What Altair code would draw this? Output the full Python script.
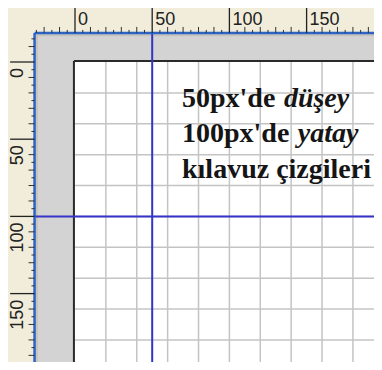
import altair as alt
import pandas as pd

# Ruler units -> screen pixels: x = 75 + 1.544*u , y = 62 + 1.544*u
W, H = 366, 354
XLO = -67 / 1.544
XHI = (W - 67) / 1.544
YLO = -54 / 1.544
YHI = (H - 54) / 1.544
FAR = 210
EDGE_X = -26.2   # blue ruler border (left)
EDGE_Y = -18.8   # blue ruler border (top)

ruler_labels = [0, 50, 100, 150]
top_minor = [v for v in range(-25, 200, 5) if v not in ruler_labels]
left_minor = [v for v in range(-15, 200, 5) if v not in ruler_labels]
grid_lines = [20, 40, 60, 80, 100, 120, 140, 160, 180]
guide_vertical = [50]
guide_horizontal = [100]

line_texts = ["50px'de", "düşey", "100px'de", "yatay", "kılavuz çizgileri"]
line_italic = [False, True, False, True, False]
line_x = [69.3, 135.3, 69.3, 144.3, 69.3]
line_y = [29.1, 29.1, 51.8, 51.8, 75.1]

BEIGE = "#f1edda"
GRAY = "#d3d3d3"
RULER_BLUE = "#2b63c6"
GUIDE_BLUE = "#3434c8"
GRID = "#c4c4c4"

X = alt.Scale(domain=[XLO, XHI], nice=False, zero=False, padding=0)
Y = alt.Scale(domain=[YLO, YHI], nice=False, zero=False, reverse=True, padding=0)


def xe(f):
    return alt.X(f, type="quantitative", scale=X, axis=None)


def ye(f):
    return alt.Y(f, type="quantitative", scale=Y, axis=None)


# background areas
areas = pd.DataFrame({
    "x0": [-60, EDGE_X, EDGE_X, EDGE_X, 0],
    "x1": [FAR, FAR, EDGE_X + 2.2, FAR, FAR],
    "y0": [-60, EDGE_Y, EDGE_Y, EDGE_Y, 0],
    "y1": [FAR, FAR, FAR, EDGE_Y + 2.2, FAR],
    "c": [BEIGE, GRAY, "#c6c4bc", "#c6c4bc", "#ffffff"],
})
bg = alt.Chart(areas).mark_rect(clip=True).encode(
    x=xe("x0"), x2="x1", y=ye("y0"), y2="y1", color=alt.Color("c:N", scale=None)
)

# page border (dark)
border = pd.DataFrame({"x0": [-0.7, -0.7], "x1": [-0.7, FAR], "y0": [-0.7, -0.7], "y1": [FAR, -0.7]})
page_edge = alt.Chart(border).mark_rule(color="#2a2a2a", strokeWidth=2, clip=True).encode(
    x=xe("x0"), x2="x1", y=ye("y0"), y2="y1"
)

# grid
gv = pd.DataFrame({"g": grid_lines})
grid_v = alt.Chart(gv).mark_rule(color=GRID, strokeWidth=1.5, clip=True).encode(
    x=xe("g"), y=alt.Y("lo:Q", scale=Y, axis=None), y2="hi:Q"
).transform_calculate(lo="0", hi=str(FAR))
grid_h = alt.Chart(gv).mark_rule(color=GRID, strokeWidth=1.5, clip=True).encode(
    y=ye("g"), x=alt.X("lo:Q", scale=X, axis=None), x2="hi:Q"
).transform_calculate(lo="0", hi=str(FAR))

# guides
guide_v = alt.Chart(pd.DataFrame({"g": guide_vertical})).mark_rule(
    color=GUIDE_BLUE, strokeWidth=2, clip=True
).encode(x=xe("g"), y=alt.Y("lo:Q", scale=Y, axis=None), y2="hi:Q").transform_calculate(
    lo=str(EDGE_Y), hi=str(FAR))
guide_h = alt.Chart(pd.DataFrame({"g": guide_horizontal})).mark_rule(
    color=GUIDE_BLUE, strokeWidth=2, clip=True
).encode(y=ye("g"), x=alt.X("lo:Q", scale=X, axis=None), x2="hi:Q").transform_calculate(
    lo=str(EDGE_X), hi=str(FAR))

# ruler borders
edges = pd.DataFrame({"x0": [EDGE_X, EDGE_X], "x1": [FAR, EDGE_X], "y0": [EDGE_Y, EDGE_Y], "y1": [EDGE_Y, FAR]})
ruler_edge = alt.Chart(edges).mark_rule(color=RULER_BLUE, strokeWidth=2.5, clip=True).encode(
    x=xe("x0"), x2="x1", y=ye("y0"), y2="y1"
)

# ruler ticks
tm = pd.DataFrame({"v": top_minor})
top_ticks = alt.Chart(tm).mark_rule(color="#333333", strokeWidth=1, clip=True).encode(
    x=xe("v"), y=ye("a"), y2="b"
).transform_calculate(
    a=str(EDGE_Y), b=f"datum.v % 10 == 0 ? {EDGE_Y - 3.9} : {EDGE_Y - 2.0}"
)
lm = pd.DataFrame({"v": left_minor})
left_ticks = alt.Chart(lm).mark_rule(color="#333333", strokeWidth=1, clip=True).encode(
    y=ye("v"), x=xe("a"), x2="b"
).transform_calculate(
    a=str(EDGE_X), b=f"datum.v % 10 == 0 ? {EDGE_X - 3.9} : {EDGE_X - 2.0}"
)
lab = pd.DataFrame({"v": ruler_labels})
top_big = alt.Chart(lab).mark_rule(color="#222222", strokeWidth=1.3, clip=True).encode(
    x=xe("v"), y=ye("a"), y2="b"
).transform_calculate(a=str(EDGE_Y), b="-40")
left_big = alt.Chart(lab).mark_rule(color="#222222", strokeWidth=1.3, clip=True).encode(
    y=ye("v"), x=xe("a"), x2="b"
).transform_calculate(a=str(EDGE_X), b="-42")

top_labels = alt.Chart(lab).mark_text(
    font="Liberation Sans", fontSize=18, color="#222222", align="left", baseline="alphabetic", dx=3
).encode(x=xe("v"), y=alt.Y("ly:Q", scale=Y, axis=None), text=alt.Text("v:Q")).transform_calculate(ly="-24")
left_labels = alt.Chart(lab).mark_text(
    font="Liberation Sans", fontSize=18, color="#222222", align="right", baseline="alphabetic",
    angle=270, dx=-6
).encode(y=ye("v"), x=alt.X("lx:Q", scale=X, axis=None), text=alt.Text("v:Q")).transform_calculate(lx="-33.7")

# page text
txt = pd.DataFrame({"t": line_texts, "it": line_italic, "x": line_x, "y": line_y})
roman = alt.Chart(txt).transform_filter("!datum.it").mark_text(
    font="Liberation Serif", fontSize=28, fontWeight="bold", color="#151515",
    align="left", baseline="alphabetic"
).encode(x=xe("x"), y=ye("y"), text="t:N")
italic = alt.Chart(txt).transform_filter("datum.it").mark_text(
    font="Liberation Serif", fontSize=28, fontWeight="bold", fontStyle="italic", color="#151515",
    align="left", baseline="alphabetic"
).encode(x=xe("x"), y=ye("y"), text="t:N")

chart = alt.layer(
    bg, grid_v, grid_h, page_edge, guide_v, guide_h, ruler_edge,
    top_ticks, left_ticks, top_big, left_big, top_labels, left_labels, roman, italic
).properties(
    width=W, height=H, padding=0, autosize=alt.AutoSizeParams(type="none")
).configure_view(stroke=None)

chart.save("out.html", embed_options={"renderer": "svg", "actions": False})
